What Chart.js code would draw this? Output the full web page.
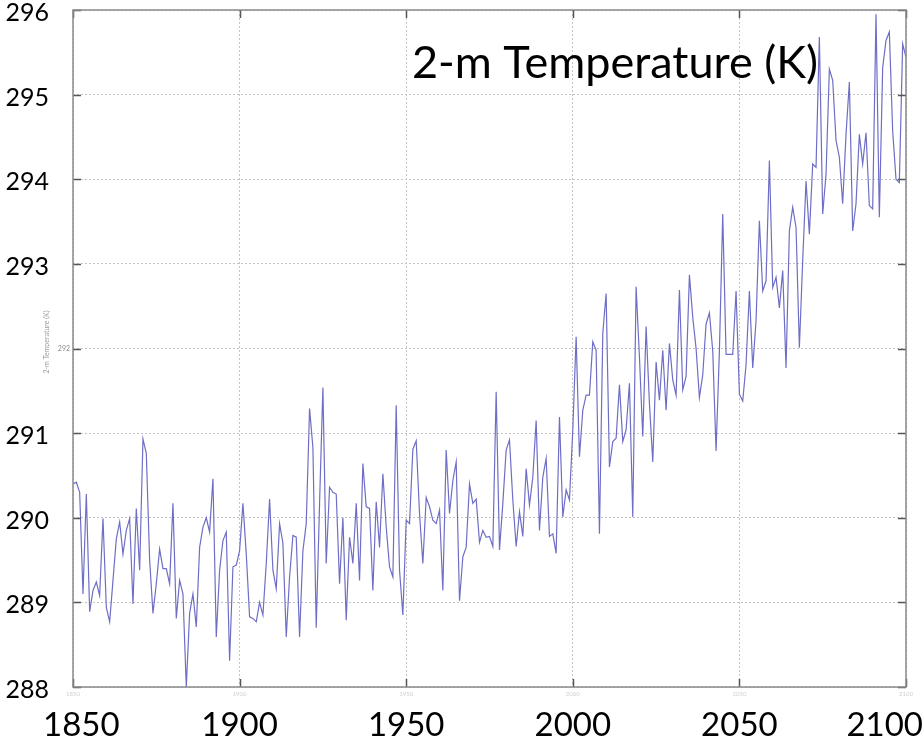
<!DOCTYPE html>
<html>
<head>
<meta charset="utf-8">
<title>2-m Temperature (K)</title>
<script src="https://cdn.jsdelivr.net/npm/chart.js@4/dist/chart.umd.min.js"></script>
<style>
  html, body { margin: 0; padding: 0; background: #ffffff; }
  #chart { display: block; }
</style>
</head>
<body>
<canvas id="chart" width="924" height="744"></canvas>
<script>
// ---------- data (annual values) ----------
const firstYear = 1850;
const lastYear = 2100;

const temp1850s = [
  290.40, 290.42, 290.30, 289.10, 290.28, 288.89, 289.14, 289.24, 289.08, 289.99,
  288.94, 288.77, 289.26, 289.75, 289.95, 289.57, 289.85, 289.99, 288.98, 290.11,
  289.38, 290.93, 290.76, 289.50, 288.87, 289.22, 289.63, 289.40, 289.40, 289.22,
  290.17, 288.81, 289.26, 289.10, 288.00, 288.87, 289.10, 288.71, 289.65, 289.89,
  290.00, 289.83, 290.46, 288.59, 289.38, 289.73, 289.83, 288.31, 289.42, 289.44
];
const temp1900s = [
  289.61, 290.17, 289.57, 288.83, 288.81, 288.77, 289.00, 288.85, 289.46, 290.22,
  289.38, 289.16, 289.93, 289.70, 288.59, 289.30, 289.79, 289.77, 288.59, 289.61,
  289.93, 291.29, 290.83, 288.70, 290.17, 291.54, 289.46, 290.36, 290.30, 290.28,
  289.22, 290.00, 288.79, 289.77, 289.46, 290.17, 289.26, 290.64, 290.13, 290.11,
  289.14, 290.19, 289.65, 290.52, 289.89, 289.42, 289.30, 291.33, 289.38, 288.85
];
const temp1950s = [
  289.97, 289.93, 290.81, 290.91, 290.05, 289.46, 290.24, 290.13, 289.97, 289.93,
  290.09, 289.14, 290.80, 290.05, 290.44, 290.66, 289.02, 289.54, 289.65, 290.40,
  290.17, 290.22, 289.71, 289.85, 289.77, 289.78, 289.66, 291.49, 289.62, 290.17,
  290.80, 290.92, 290.21, 289.66, 290.07, 289.78, 290.58, 290.15, 290.48, 291.15,
  289.85, 290.48, 290.70, 289.78, 289.81, 289.58, 291.19, 290.01, 290.33, 290.21
];
const temp2000s = [
  291.04, 292.14, 290.72, 291.27, 291.45, 291.45, 292.08, 291.98, 289.81, 292.18,
  292.65, 290.60, 290.90, 290.94, 291.57, 290.90, 291.04, 291.59, 290.01, 292.73,
  291.90, 290.96, 292.26, 291.35, 290.66, 291.84, 291.39, 291.98, 291.27, 292.06,
  291.63, 291.45, 292.69, 291.51, 291.67, 292.87, 292.37, 292.00, 291.42, 291.69,
  292.29, 292.42, 291.97, 290.79, 291.97, 293.59, 291.93, 291.93, 291.93, 292.68
];
const temp2050s = [
  291.46, 291.38, 291.81, 292.68, 291.77, 292.33, 293.51, 292.68, 292.80, 294.22,
  292.72, 292.84, 292.48, 292.92, 291.77, 293.39, 293.67, 293.43, 292.01, 293.04,
  293.98, 293.35, 294.18, 294.14, 295.68, 293.59, 294.06, 295.30, 295.17, 294.46,
  294.26, 293.71, 294.53, 295.15, 293.39, 293.71, 294.53, 294.18, 294.55, 293.69,
  293.65, 295.95, 293.55, 295.32, 295.64, 295.74, 294.57, 294.00, 293.96, 295.60,
  295.44
];

const xTicks = [1850, 1900, 1950, 2000, 2050, 2100];
const yTicks = [288, 289, 290, 291, 292, 293, 294, 295, 296];
const titleText = '2-m Temperature (K)';

// ---------- build points ----------
const temps = [].concat(temp1850s, temp1900s, temp1950s, temp2000s, temp2050s);
const points = temps.map((t, i) => ({ x: firstYear + i, y: t }));

// ---------- decorations: box, inner ticks, labels ----------
const FONT = 'Lato, "Open Sans", sans-serif';

const slideDecor = {
  id: 'slideDecor',
  afterDraw(chart) {
    const ctx = chart.ctx;
    const area = chart.chartArea;
    const xs = chart.scales.x;
    const ys = chart.scales.y;

    ctx.save();

    // inner tick marks
    ctx.strokeStyle = '#555555';
    ctx.lineWidth = 1.5;
    ctx.beginPath();
    yTicks.forEach(v => {
      const py = Math.round(ys.getPixelForValue(v)) + 0.5;
      ctx.moveTo(area.left, py); ctx.lineTo(area.left + 8, py);
      ctx.moveTo(area.right, py); ctx.lineTo(area.right - 8, py);
    });
    xTicks.forEach(v => {
      const px = Math.round(xs.getPixelForValue(v)) + 0.5;
      ctx.moveTo(px, area.bottom); ctx.lineTo(px, area.bottom - 8);
      ctx.moveTo(px, area.top); ctx.lineTo(px, area.top + 8);
    });
    ctx.stroke();

    // plot box
    ctx.strokeStyle = '#8a8a8a';
    ctx.lineWidth = 1.5;
    ctx.strokeRect(area.left, area.top, area.right - area.left, area.bottom - area.top);

    // y tick labels (292 is the small original one)
    ctx.textAlign = 'right';
    ctx.textBaseline = 'middle';
    yTicks.forEach(v => {
      const py = ys.getPixelForValue(v);
      if (v === 292) {
        ctx.fillStyle = '#8c8c8c';
        ctx.font = '7px ' + FONT;
        ctx.fillText(String(v), area.left - 3, py);
      } else {
        ctx.fillStyle = '#000000';
        ctx.font = '25px ' + FONT;
        ctx.fillText(String(v), area.left - 24, py + 3);
      }
    });

    // faint small x labels just under the axis
    ctx.textAlign = 'center';
    ctx.textBaseline = 'top';
    ctx.fillStyle = '#d0d0d0';
    ctx.font = '6px ' + FONT;
    xTicks.forEach(v => {
      ctx.fillText(String(v), xs.getPixelForValue(v), area.bottom + 4);
    });

    // large x labels, kept inside the page
    ctx.fillStyle = '#000000';
    ctx.font = '33px ' + FONT;
    ctx.textBaseline = 'middle';
    xTicks.forEach(v => {
      const label = String(v);
      const w = ctx.measureText(label).width;
      let cx = xs.getPixelForValue(v);
      cx = Math.max(cx, 43 + w / 2);
      cx = Math.min(cx, chart.width - 1 - w / 2);
      ctx.fillText(label, cx, 725);
    });

    // small rotated axis title of the original plot
    ctx.save();
    ctx.translate(47, 342);
    ctx.rotate(-Math.PI / 2);
    ctx.fillStyle = '#9a9a9a';
    ctx.font = '7px ' + FONT;
    ctx.textAlign = 'center';
    ctx.textBaseline = 'middle';
    ctx.fillText(titleText, 0, 0);
    ctx.restore();

    // big title inside the plot
    ctx.fillStyle = '#000000';
    ctx.font = '45px ' + FONT;
    ctx.textAlign = 'left';
    ctx.textBaseline = 'alphabetic';
    ctx.fillText(titleText, 412, 78);

    ctx.restore();
  }
};

// ---------- chart ----------
new Chart(document.getElementById('chart'), {
  type: 'line',
  data: {
    datasets: [{
      label: titleText,
      data: points,
      borderColor: '#6e6ec6',
      borderWidth: 1.2,
      pointRadius: 0,
      tension: 0,
      fill: false
    }]
  },
  options: {
    responsive: false,
    animation: false,
    devicePixelRatio: 1,
    layout: { padding: { left: 73, top: 10, right: 18, bottom: 57 } },
    plugins: {
      legend: { display: false },
      title: { display: false },
      tooltip: { enabled: false }
    },
    scales: {
      x: {
        type: 'linear',
        min: firstYear,
        max: lastYear,
        afterBuildTicks: scale => { scale.ticks = xTicks.map(v => ({ value: v })); },
        afterFit: scale => { scale.height = 0; },
        ticks: { display: false },
        grid: { color: '#c4c4c4', lineWidth: 1, drawTicks: false },
        border: { display: false, dash: [2, 2] }
      },
      y: {
        min: 288,
        max: 296,
        afterBuildTicks: scale => { scale.ticks = yTicks.map(v => ({ value: v })); },
        afterFit: scale => { scale.width = 0; },
        ticks: { display: false },
        grid: { color: '#c4c4c4', lineWidth: 1, drawTicks: false },
        border: { display: false, dash: [2, 2] }
      }
    }
  },
  plugins: [slideDecor]
});
</script>
</body>
</html>
